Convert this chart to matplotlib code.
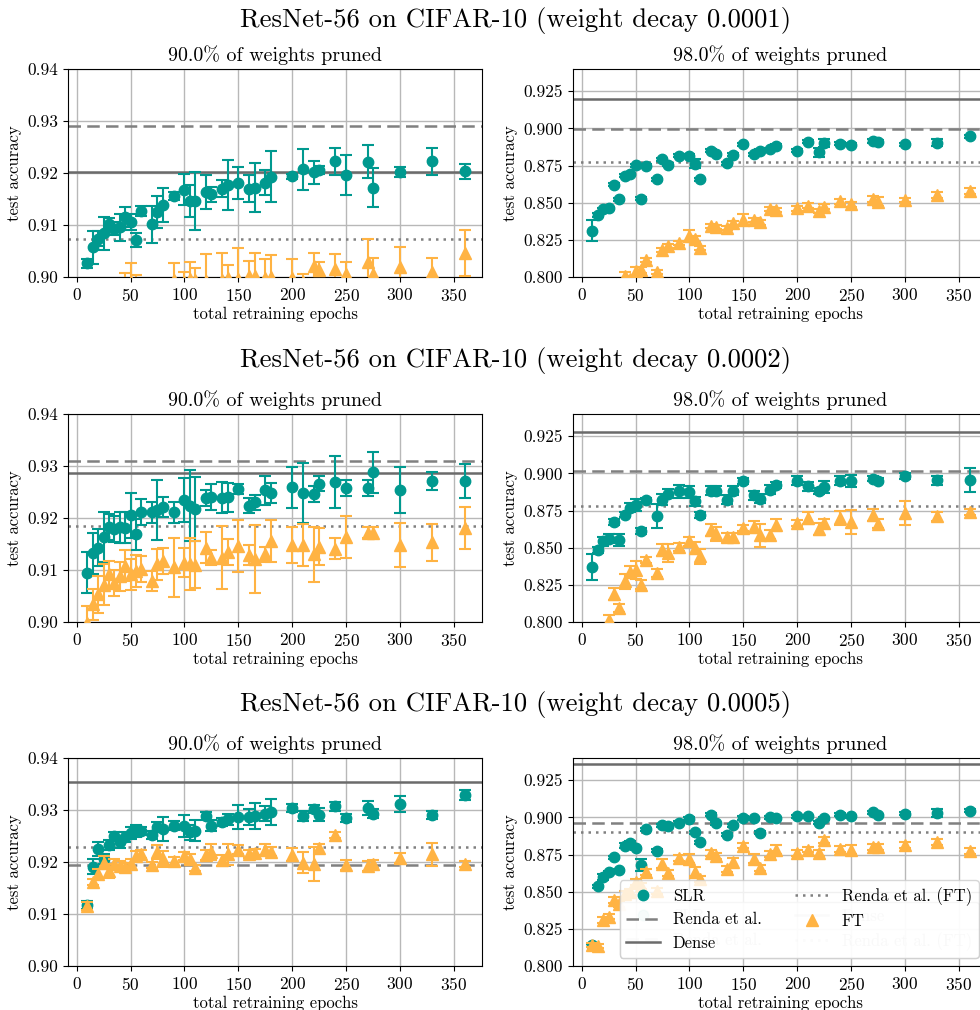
import matplotlib
matplotlib.use("Agg")
import matplotlib.pyplot as plt
from matplotlib.lines import Line2D
from matplotlib.ticker import FormatStrFormatter

plt.rcParams['font.family'] = 'serif'
plt.rcParams['font.serif'] = ['cmr10']
plt.rcParams['mathtext.fontset'] = 'cm'
plt.rcParams['axes.formatter.use_mathtext'] = True
plt.rcParams['font.size'] = 12

TEAL = '#00998f'
ORANGE = '#ffb343'

epochs = [10, 15, 20, 25, 30, 35, 40, 45, 50, 55, 60, 70, 75, 80, 90, 100, 105, 110,
          120, 125, 135, 140, 150, 160, 165, 175, 180, 200, 210, 220, 225, 240, 250,
          270, 275, 300, 330, 360]

decays = ['0.0001', '0.0002', '0.0005']
sparsities = ['90.0', '98.0']

# ---- weight decay 0.0001, 90% ----
slr_wd1_90 = [0.9026, 0.9057, 0.9074, 0.9084, 0.9102, 0.9093, 0.9096, 0.9116, 0.9106, 0.9071,
              0.9127, 0.9101, 0.9125, 0.9138, 0.9156, 0.9168, 0.9146, 0.9146, 0.9164, 0.9159,
              0.9170, 0.9177, 0.9181, 0.9170, 0.9172, 0.9181, 0.9193, 0.9194, 0.9207, 0.9201,
              0.9206, 0.9223, 0.9196, 0.9222, 0.9172, 0.9202, 0.9223, 0.9203]
slr_wd1_90_err = [0.0009, 0.0032, 0.0015, 0.0032, 0.0011, 0.0012, 0.0026, 0.0019, 0.0015, 0.0014,
                  0.0009, 0.0035, 0.0030, 0.0033, 0.0007, 0.0030, 0.0031, 0.0055, 0.0033, 0.0014,
                  0.0017, 0.0048, 0.0031, 0.0026, 0.0047, 0.0024, 0.0049, 0.0005, 0.0040, 0.0023,
                  0.0007, 0.0026, 0.0039, 0.0031, 0.0038, 0.0009, 0.0026, 0.0014]
ft_wd1_90 = [0.8840, 0.8880, 0.8890, 0.8910, 0.8920, 0.8930, 0.8940, 0.8985, 0.8990, 0.8985,
             0.8965, 0.8955, 0.8970, 0.8975, 0.8995, 0.8990, 0.8996, 0.8994, 0.8993, 0.8985,
             0.8995, 0.8998, 0.8996, 0.9001, 0.9002, 0.8998, 0.9000, 0.8998, 0.8990, 0.9021,
             0.9013, 0.9016, 0.9006, 0.9029, 0.9006, 0.9019, 0.9009, 0.9046]
ft_wd1_90_err = [0.0020, 0.0020, 0.0030, 0.0020, 0.0030, 0.0020, 0.0030, 0.0023, 0.0037, 0.0018,
                 0.0020, 0.0030, 0.0025, 0.0020, 0.0031, 0.0020, 0.0032, 0.0024, 0.0052, 0.0012,
                 0.0051, 0.0025, 0.0059, 0.0029, 0.0045, 0.0037, 0.0042, 0.0037, 0.0016, 0.0025,
                 0.0016, 0.0029, 0.0023, 0.0045, 0.0031, 0.0039, 0.0028, 0.0044]

# ---- weight decay 0.0001, 98% ----
slr_wd1_98 = [0.8311, 0.8417, 0.8457, 0.8464, 0.8622, 0.8523, 0.8682, 0.8691, 0.8752, 0.8527,
              0.8748, 0.8658, 0.8793, 0.8755, 0.8815, 0.8815, 0.8761, 0.8658, 0.8849, 0.8827,
              0.8766, 0.8822, 0.8894, 0.8827, 0.8849, 0.8860, 0.8883, 0.8849, 0.8910, 0.8838,
              0.8901, 0.8896, 0.8890, 0.8917, 0.8910, 0.8894, 0.8905, 0.8946]
slr_wd1_98_err = [0.0070, 0.0015, 0.0010, 0.0010, 0.0010, 0.0010, 0.0010, 0.0010, 0.0010, 0.0010,
                  0.0010, 0.0010, 0.0010, 0.0010, 0.0010, 0.0010, 0.0030, 0.0010, 0.0010, 0.0010,
                  0.0010, 0.0010, 0.0010, 0.0010, 0.0010, 0.0010, 0.0010, 0.0010, 0.0010, 0.0030,
                  0.0025, 0.0010, 0.0010, 0.0012, 0.0010, 0.0010, 0.0022, 0.0012]
ft_wd1_98 = [0.7600, 0.7700, 0.7780, 0.7840, 0.7890, 0.7930, 0.8005, 0.7985, 0.8038, 0.8050,
             0.8113, 0.8034, 0.8180, 0.8207, 0.8230, 0.8277, 0.8255, 0.8196, 0.8345, 0.8338,
             0.8331, 0.8365, 0.8387, 0.8383, 0.8367, 0.8457, 0.8450, 0.8462, 0.8480, 0.8446,
             0.8473, 0.8509, 0.8489, 0.8523, 0.8507, 0.8518, 0.8552, 0.8579]
ft_wd1_98_err = [0.0020, 0.0020, 0.0020, 0.0020, 0.0020, 0.0020, 0.0030, 0.0020, 0.0030, 0.0020,
                 0.0015, 0.0015, 0.0015, 0.0015, 0.0015, 0.0040, 0.0020, 0.0015, 0.0015, 0.0015,
                 0.0015, 0.0015, 0.0040, 0.0015, 0.0015, 0.0015, 0.0015, 0.0015, 0.0015, 0.0015,
                 0.0015, 0.0015, 0.0015, 0.0020, 0.0030, 0.0015, 0.0020, 0.0020]

# ---- weight decay 0.0002, 90% ----
slr_wd2_90 = [0.9095, 0.9132, 0.9143, 0.9163, 0.9182, 0.9179, 0.9182, 0.9181, 0.9205, 0.9169,
              0.9211, 0.9211, 0.9216, 0.9221, 0.9211, 0.9234, 0.9224, 0.9217, 0.9239, 0.9240,
              0.9239, 0.9240, 0.9256, 0.9224, 0.9230, 0.9253, 0.9248, 0.9259, 0.9248, 0.9246,
              0.9266, 0.9269, 0.9258, 0.9258, 0.9288, 0.9254, 0.9271, 0.9271]
slr_wd2_90_err = [0.0040, 0.0039, 0.0035, 0.0048, 0.0025, 0.0025, 0.0030, 0.0030, 0.0044, 0.0030,
                  0.0025, 0.0020, 0.0058, 0.0020, 0.0020, 0.0042, 0.0069, 0.0061, 0.0015, 0.0025,
                  0.0030, 0.0028, 0.0010, 0.0015, 0.0015, 0.0028, 0.0020, 0.0039, 0.0058, 0.0015,
                  0.0015, 0.0050, 0.0015, 0.0015, 0.0039, 0.0044, 0.0017, 0.0033]
ft_wd2_90 = [0.8998, 0.9034, 0.9053, 0.9072, 0.9092, 0.9075, 0.9088, 0.9108, 0.9092, 0.9098,
             0.9101, 0.9079, 0.9111, 0.9117, 0.9105, 0.9114, 0.9111, 0.9110, 0.9143, 0.9124,
             0.9124, 0.9135, 0.9146, 0.9129, 0.9121, 0.9130, 0.9156, 0.9148, 0.9148, 0.9130,
             0.9145, 0.9141, 0.9164, 0.9172, 0.9172, 0.9148, 0.9153, 0.9181]
ft_wd2_90_err = [0.0032, 0.0030, 0.0035, 0.0040, 0.0025, 0.0025, 0.0028, 0.0030, 0.0030, 0.0030,
                 0.0025, 0.0020, 0.0030, 0.0025, 0.0057, 0.0028, 0.0050, 0.0045, 0.0030, 0.0015,
                 0.0060, 0.0025, 0.0050, 0.0020, 0.0065, 0.0015, 0.0040, 0.0035, 0.0040, 0.0053,
                 0.0035, 0.0020, 0.0040, 0.0010, 0.0010, 0.0043, 0.0035, 0.0040]

# ---- weight decay 0.0002, 98% ----
slr_wd2_98 = [0.8370, 0.8487, 0.8543, 0.8561, 0.8671, 0.8554, 0.8723, 0.8768, 0.8790, 0.8615,
              0.8821, 0.8711, 0.8824, 0.8862, 0.8880, 0.8875, 0.8812, 0.8723, 0.8884, 0.8884,
              0.8824, 0.8884, 0.8947, 0.8853, 0.8830, 0.8891, 0.8925, 0.8952, 0.8913, 0.8884,
              0.8907, 0.8952, 0.8947, 0.8965, 0.8952, 0.8981, 0.8954, 0.8958]
slr_wd2_98_err = [0.0085, 0.0020, 0.0030, 0.0030, 0.0020, 0.0040, 0.0015, 0.0030, 0.0040, 0.0020,
                  0.0015, 0.0080, 0.0035, 0.0030, 0.0045, 0.0040, 0.0030, 0.0020, 0.0030, 0.0030,
                  0.0030, 0.0030, 0.0020, 0.0030, 0.0030, 0.0030, 0.0020, 0.0030, 0.0030, 0.0020,
                  0.0040, 0.0030, 0.0040, 0.0015, 0.0015, 0.0020, 0.0030, 0.0080]
ft_wd2_98 = [0.7800, 0.7860, 0.7920, 0.8016, 0.8189, 0.8094, 0.8274, 0.8337, 0.8352, 0.8251,
             0.8420, 0.8330, 0.8483, 0.8465, 0.8505, 0.8543, 0.8498, 0.8442, 0.8622, 0.8592,
             0.8570, 0.8570, 0.8633, 0.8637, 0.8583, 0.8588, 0.8655, 0.8666, 0.8700, 0.8628,
             0.8666, 0.8700, 0.8673, 0.8723, 0.8660, 0.8734, 0.8711, 0.8741]
ft_wd2_98_err = [0.0030, 0.0030, 0.0030, 0.0030, 0.0040, 0.0030, 0.0050, 0.0040, 0.0060, 0.0030,
                 0.0020, 0.0030, 0.0040, 0.0060, 0.0030, 0.0030, 0.0040, 0.0050, 0.0040, 0.0050,
                 0.0030, 0.0030, 0.0020, 0.0040, 0.0075, 0.0030, 0.0040, 0.0020, 0.0040, 0.0040,
                 0.0030, 0.0050, 0.0083, 0.0040, 0.0030, 0.0083, 0.0030, 0.0020]

# ---- weight decay 0.0005, 90% ----
slr_wd5_90 = [0.9117, 0.9191, 0.9225, 0.9206, 0.9233, 0.9250, 0.9238, 0.9248, 0.9256, 0.9260,
              0.9260, 0.9252, 0.9267, 0.9264, 0.9270, 0.9269, 0.9257, 0.9260, 0.9289, 0.9270,
              0.9277, 0.9282, 0.9286, 0.9286, 0.9289, 0.9293, 0.9296, 0.9304, 0.9289, 0.9302,
              0.9291, 0.9307, 0.9284, 0.9304, 0.9293, 0.9312, 0.9291, 0.9329]
slr_wd5_90_err = [0.0008, 0.0014, 0.0013, 0.0010, 0.0010, 0.0008, 0.0012, 0.0010, 0.0012, 0.0012,
                  0.0008, 0.0008, 0.0010, 0.0023, 0.0008, 0.0021, 0.0015, 0.0020, 0.0008, 0.0010,
                  0.0008, 0.0010, 0.0023, 0.0015, 0.0025, 0.0015, 0.0025, 0.0008, 0.0010, 0.0008,
                  0.0013, 0.0008, 0.0008, 0.0013, 0.0008, 0.0015, 0.0008, 0.0010]
ft_wd5_90 = [0.9116, 0.9161, 0.9177, 0.9199, 0.9183, 0.9196, 0.9193, 0.9190, 0.9196, 0.9212,
             0.9215, 0.9194, 0.9219, 0.9206, 0.9201, 0.9212, 0.9206, 0.9188, 0.9214, 0.9219,
             0.9203, 0.9215, 0.9224, 0.9215, 0.9217, 0.9224, 0.9220, 0.9214, 0.9199, 0.9196,
             0.9226, 0.9252, 0.9194, 0.9192, 0.9196, 0.9208, 0.9215, 0.9196]
ft_wd5_90_err = [0.0008, 0.0006, 0.0010, 0.0013, 0.0013, 0.0010, 0.0008, 0.0008, 0.0010, 0.0010,
                 0.0008, 0.0006, 0.0013, 0.0015, 0.0008, 0.0008, 0.0010, 0.0006, 0.0010, 0.0015,
                 0.0010, 0.0020, 0.0008, 0.0008, 0.0008, 0.0010, 0.0008, 0.0013, 0.0020, 0.0032,
                 0.0008, 0.0006, 0.0010, 0.0010, 0.0008, 0.0010, 0.0022, 0.0005]

# ---- weight decay 0.0005, 98% ----
slr_wd5_98 = [0.8140, 0.8536, 0.8597, 0.8631, 0.8732, 0.8646, 0.8811, 0.8829, 0.8793, 0.8680,
              0.8919, 0.8777, 0.8946, 0.8939, 0.8964, 0.8991, 0.8901, 0.8833, 0.9018, 0.8962,
              0.8883, 0.8946, 0.8995, 0.8995, 0.8896, 0.9002, 0.8995, 0.9007, 0.9009, 0.8964,
              0.8995, 0.9018, 0.9009, 0.9036, 0.9014, 0.9025, 0.9029, 0.9045]
slr_wd5_98_err = [0.0010, 0.0010, 0.0020, 0.0010, 0.0010, 0.0010, 0.0020, 0.0010, 0.0010, 0.0040,
                  0.0010, 0.0010, 0.0010, 0.0010, 0.0010, 0.0010, 0.0010, 0.0010, 0.0010, 0.0010,
                  0.0010, 0.0010, 0.0015, 0.0010, 0.0010, 0.0010, 0.0010, 0.0010, 0.0010, 0.0010,
                  0.0010, 0.0010, 0.0010, 0.0010, 0.0010, 0.0010, 0.0025, 0.0010]
ft_wd5_98 = [0.8140, 0.8135, 0.8311, 0.8333, 0.8446, 0.8417, 0.8484, 0.8495, 0.8563, 0.8540,
             0.8635, 0.8507, 0.8687, 0.8626, 0.8725, 0.8721, 0.8635, 0.8586, 0.8761, 0.8739,
             0.8653, 0.8698, 0.8811, 0.8721, 0.8658, 0.8755, 0.8784, 0.8761, 0.8784, 0.8761,
             0.8851, 0.8788, 0.8784, 0.8800, 0.8800, 0.8815, 0.8833, 0.8777]
ft_wd5_98_err = [0.0015, 0.0015, 0.0020, 0.0020, 0.0020, 0.0020, 0.0020, 0.0020, 0.0020, 0.0020,
                 0.0020, 0.0020, 0.0030, 0.0020, 0.0020, 0.0030, 0.0030, 0.0020, 0.0020, 0.0020,
                 0.0020, 0.0030, 0.0020, 0.0030, 0.0020, 0.0020, 0.0030, 0.0020, 0.0020, 0.0020,
                 0.0020, 0.0020, 0.0030, 0.0020, 0.0020, 0.0020, 0.0020, 0.0020]

# reference accuracies: (dense, renda, renda FT)
baselines_90 = [(0.9201, 0.9291, 0.9074), (0.9287, 0.9309, 0.9185), (0.9354, 0.9195, 0.9229)]
baselines_98 = [(0.9201, 0.8998, 0.8775), (0.9279, 0.9014, 0.8783), (0.9358, 0.8964, 0.8901)]

panels = [
    [(slr_wd1_90, slr_wd1_90_err, ft_wd1_90, ft_wd1_90_err),
     (slr_wd1_98, slr_wd1_98_err, ft_wd1_98, ft_wd1_98_err)],
    [(slr_wd2_90, slr_wd2_90_err, ft_wd2_90, ft_wd2_90_err),
     (slr_wd2_98, slr_wd2_98_err, ft_wd2_98, ft_wd2_98_err)],
    [(slr_wd5_90, slr_wd5_90_err, ft_wd5_90, ft_wd5_90_err),
     (slr_wd5_98, slr_wd5_98_err, ft_wd5_98, ft_wd5_98_err)],
]

W, H = 980, 1010
fig = plt.figure(figsize=(W / 100, H / 100), dpi=100)

row_tops = [69, 414, 758]
col_lefts = [68, 573]
ax_w, ax_h = 414, 208
title_y = [20, 360, 705]

last_ax = None
for r in range(3):
    fig.text(516 / W, 1 - title_y[r] / H,
             f'ResNet-56 on CIFAR-10 (weight decay {decays[r]})',
             ha='center', va='center', fontsize=19.2)
    for c in range(2):
        ax = fig.add_axes([col_lefts[c] / W, 1 - (row_tops[r] + ax_h) / H, ax_w / W, ax_h / H])
        slr, slr_err, ft, ft_err = panels[r][c]
        dense, renda, renda_ft = (baselines_90 if c == 0 else baselines_98)[r]

        ax.axhline(dense, color='0.42', lw=1.8, ls='-', zorder=1)
        ax.axhline(renda, color='0.5', lw=1.8, ls=(0, (5, 2.5)), zorder=1)
        ax.axhline(renda_ft, color='0.5', lw=1.8, ls=(0, (1, 2)), zorder=1)

        ax.errorbar(epochs, slr, yerr=slr_err, fmt='o', color=TEAL, ms=7.5,
                    capsize=4, elinewidth=1.5, capthick=1.5, zorder=3)
        ax.errorbar(epochs, ft, yerr=ft_err, fmt='^', color=ORANGE, ms=8,
                    capsize=4, elinewidth=1.5, capthick=1.5, zorder=4)

        ax.set_xlim(-8, 376)
        ax.set_xticks(range(0, 351, 50))
        if c == 0:
            ax.set_ylim(0.90, 0.94)
            ax.set_yticks([0.90, 0.91, 0.92, 0.93, 0.94])
            ax.yaxis.set_major_formatter(FormatStrFormatter('%.2f'))
        else:
            ax.set_ylim(0.80, 0.94)
            ax.set_yticks([0.800, 0.825, 0.850, 0.875, 0.900, 0.925])
            ax.yaxis.set_major_formatter(FormatStrFormatter('%.3f'))
        ax.grid(True, color='0.72', lw=1.0)
        ax.set_axisbelow(True)
        ax.tick_params(labelsize=12.5)
        ax.set_title(f'{sparsities[c]}% of weights pruned', fontsize=14.4, pad=6)
        ax.set_xlabel('total retraining epochs', fontsize=12, labelpad=2)
        ax.set_ylabel('test accuracy', fontsize=12, labelpad=4)
        last_ax = ax

h_slr = Line2D([], [], marker='o', ls='none', color=TEAL, ms=7.5)
h_ft = Line2D([], [], marker='^', ls='none', color=ORANGE, ms=8)
h_renda = Line2D([], [], color='0.5', lw=1.8, ls=(0, (5, 2.5)))
h_dense = Line2D([], [], color='0.42', lw=1.8)
h_renda_ft = Line2D([], [], color='0.5', lw=1.8, ls=(0, (1, 2)))

# an older legend left underneath the final one
under = last_ax.legend([h_slr, h_renda, h_dense, h_renda_ft],
                       ['SLR', 'Renda et al.', 'Dense', 'Renda et al. (FT)'],
                       ncol=2, loc='lower right', fontsize=12)
for t in under.get_texts():
    t.set_color('0.88')
for h in under.legend_handles:
    h.set_alpha(0.15)
last_ax.add_artist(under)
last_ax.legend([h_slr, h_renda, h_dense, h_renda_ft, h_ft],
               ['SLR', 'Renda et al.', 'Dense', 'Renda et al. (FT)', 'FT'],
               ncol=2, loc='lower right', fontsize=12)

fig.savefig('out.png', dpi=100)
